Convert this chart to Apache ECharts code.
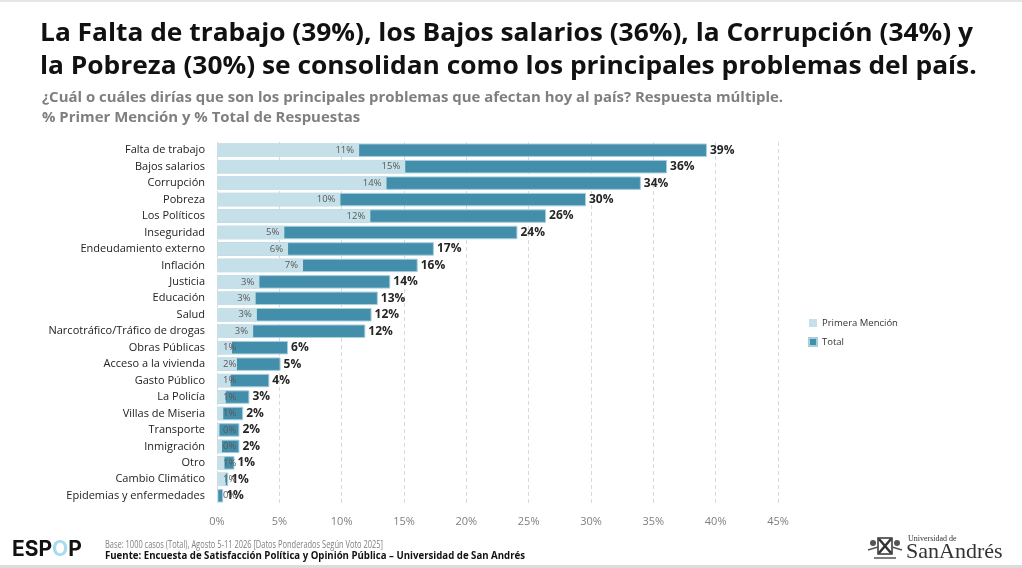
<!DOCTYPE html>
<html>
<head>
<meta charset="utf-8">
<script src="https://cdn.jsdelivr.net/npm/echarts@6/dist/echarts.min.js"></script>
<style>
  html, body { margin: 0; padding: 0; background: #fff; }
  #chart { width: 1022px; height: 568px; }
</style>
</head>
<body>
<div id="chart"></div>
<script>
// problemas del país - % primera mención y % total
const categorias = [
  "Falta de trabajo", "Bajos salarios", "Corrupción", "Pobreza", "Los Políticos",
  "Inseguridad", "Endeudamiento externo", "Inflación", "Justicia", "Educación",
  "Salud", "Narcotráfico/Tráfico de drogas", "Obras Públicas", "Acceso a la vivienda",
  "Gasto Público", "La Policía", "Villas de Miseria", "Transporte", "Inmigración",
  "Otro", "Cambio Climático", "Epidemias y enfermedades"
];
const primeraMencion = [11.4, 15.1, 13.6, 9.9, 12.3, 5.4, 5.7, 6.9, 3.4, 3.1, 3.2, 2.9, 1.2, 1.6, 1.1, 0.7, 0.5, 0.2, 0.4, 0.6, 0.7, 0.1];
const total = [39.3, 36.1, 34.0, 29.6, 26.4, 24.1, 17.4, 16.1, 13.9, 12.9, 12.4, 11.9, 5.7, 5.1, 4.2, 2.6, 2.1, 1.8, 1.8, 1.4, 0.9, 0.5];
const ticksX = [0, 5, 10, 15, 20, 25, 30, 35, 40, 45];

const titulo = [
  "La Falta de trabajo (39%), los Bajos salarios (36%), la Corrupción (34%) y",
  "la Pobreza (30%) se consolidan como los principales problemas del país.",
];
const subtitulo = [
  "¿Cuál o cuáles dirías que son los principales problemas que afectan hoy al país? Respuesta múltiple.",
  "% Primer Mención y % Total de Respuestas",
];
const notaBase = "Base: 1000 casos (Total), Agosto 5-11 2026 [Datos Ponderados Según Voto 2025]";
const notaFuente = "Fuente: Encuesta de Satisfacción Política y Opinión Pública – Universidad de San Andrés";

const colorClaro = "#c5e0e8";
const colorOscuro = "#438fab";
const fuente = "'Open Sans', 'Noto Sans', sans-serif";

// horizontal squeeze so a text line takes the same width as in the slide
const ctx = document.createElement("canvas").getContext("2d");
function escala(texto, font, ancho) {
  ctx.font = font;
  return ancho / ctx.measureText(texto).width;
}

const fTitulo = "bold 25px 'Open Sans'";
const fSub = "bold 14px 'Open Sans'";
const fBase = "10px 'Open Sans'";
const fFuente = "bold 10px 'Open Sans'";
const sTitulo = escala(titulo[0], fTitulo, 933);
const sSub = escala(subtitulo[0], fSub, 741);
const sBase = escala(notaBase, fBase, 278);
const sFuente = escala(notaFuente, fFuente, 420);

function linea(texto, x, y, font, s, color) {
  return {
    type: "text",
    x: x,
    y: y,
    scaleX: s,
    originX: 0,
    style: { text: texto, font: font, fill: color, verticalAlign: "middle" },
  };
}

const chart = echarts.init(document.getElementById("chart"));

// labels of small bars go on the left edge
const primeraData = primeraMencion.map((v) => ({
  value: v,
  label: v < 2 ? { position: "insideLeft", distance: 6 } : { position: "insideRight", distance: 5 },
}));

const option = {
  animation: false,
  textStyle: { fontFamily: fuente },
  legend: {
    data: ["Primera Mención", "Total"],
    orient: "vertical",
    left: 803,
    top: 313,
    itemWidth: 8,
    itemHeight: 8,
    itemGap: 9,
    icon: "rect",
    textStyle: { fontSize: 9.5, color: "#333", fontFamily: fuente },
  },
  grid: { left: 217, right: 244, top: 142, bottom: 64 },
  xAxis: {
    type: "value",
    min: 0,
    max: 45,
    interval: 5,
    axisLine: { show: false },
    axisTick: { show: false },
    splitLine: { lineStyle: { type: [4, 3], color: "#d9d9d9" } },
    axisLabel: {
      margin: 12,
      fontSize: 11,
      color: "#7f7f7f",
      formatter: (v) => (ticksX.includes(v) ? v + "%" : ""),
    },
  },
  yAxis: {
    type: "category",
    inverse: true,
    data: categorias,
    axisLine: { show: false },
    axisTick: { show: false },
    axisLabel: { margin: 12, fontSize: 11, color: "#222" },
  },
  series: [
    {
      name: "Total",
      type: "bar",
      data: total,
      barCategoryGap: "18%",
      itemStyle: { color: colorOscuro, borderColor: "#a7cfdd", borderWidth: 1 },
      label: {
        show: true,
        position: "right",
        distance: 3,
        fontSize: 12,
        fontWeight: "bold",
        color: "#262626",
        formatter: (p) => Math.round(p.value) + "%",
      },
    },
    {
      name: "Primera Mención",
      type: "bar",
      data: primeraData,
      barGap: "-100%",
      barCategoryGap: "18%",
      itemStyle: { color: colorClaro },
      label: {
        show: true,
        fontSize: 9.5,
        color: "#595959",
        formatter: (p) => Math.round(p.value) + "%",
      },
    },
  ],
  graphic: [
    { type: "rect", shape: { x: 0, y: 0, width: 1022, height: 2 }, style: { fill: "#e6e6e6" } },
    { type: "rect", shape: { x: 0, y: 565, width: 1022, height: 3 }, style: { fill: "#dcdcdc" } },
    linea(titulo[0], 40, 34, fTitulo, sTitulo, "#111"),
    linea(titulo[1], 40, 67, fTitulo, sTitulo, "#111"),
    linea(subtitulo[0], 42, 98, fSub, sSub, "#7f7f7f"),
    linea(subtitulo[1], 42, 118, fSub, sSub, "#7f7f7f"),
    linea(notaBase, 105, 545, fBase, sBase, "#7f7f7f"),
    linea(notaFuente, 105, 556, fFuente, sFuente, "#111"),
    // ESPOP logo
    {
      type: "text",
      x: 12,
      y: 550,
      style: {
        text: "{a|ESP}{o|O}{a|P}",
        verticalAlign: "middle",
        rich: {
          a: { font: "bold 21px Inter, sans-serif", fill: "#111" },
          o: { font: "bold 21px Inter, sans-serif", fill: "#a7dcef" },
        },
      },
    },
    // San Andrés emblem
    {
      type: "group",
      x: 868,
      y: 537,
      children: [
        { type: "rect", shape: { x: 10, y: 1, width: 14, height: 16 }, style: { fill: "#fff", stroke: "#333", lineWidth: 1.5 } },
        { type: "line", shape: { x1: 11, y1: 2, x2: 23, y2: 16 }, style: { stroke: "#333", lineWidth: 2.5 } },
        { type: "line", shape: { x1: 23, y1: 2, x2: 11, y2: 16 }, style: { stroke: "#333", lineWidth: 2.5 } },
        { type: "circle", shape: { cx: 5, cy: 6, r: 3 }, style: { fill: "#555" } },
        { type: "circle", shape: { cx: 29, cy: 6, r: 3 }, style: { fill: "#555" } },
        { type: "line", shape: { x1: 0, y1: 13, x2: 10, y2: 10 }, style: { stroke: "#555", lineWidth: 1.5 } },
        { type: "line", shape: { x1: 24, y1: 10, x2: 34, y2: 13 }, style: { stroke: "#555", lineWidth: 1.5 } },
        { type: "line", shape: { x1: 6, y1: 21, x2: 28, y2: 21 }, style: { stroke: "#555", lineWidth: 1.5 } },
      ],
    },
    linea("Universidad de", 908, 539, "8px 'Liberation Serif', serif", 1, "#333"),
    linea("SanAndrés", 906, 552, "22px 'Liberation Serif', serif", 1, "#333"),
  ],
};

chart.setOption(option);
</script>
</body>
</html>
